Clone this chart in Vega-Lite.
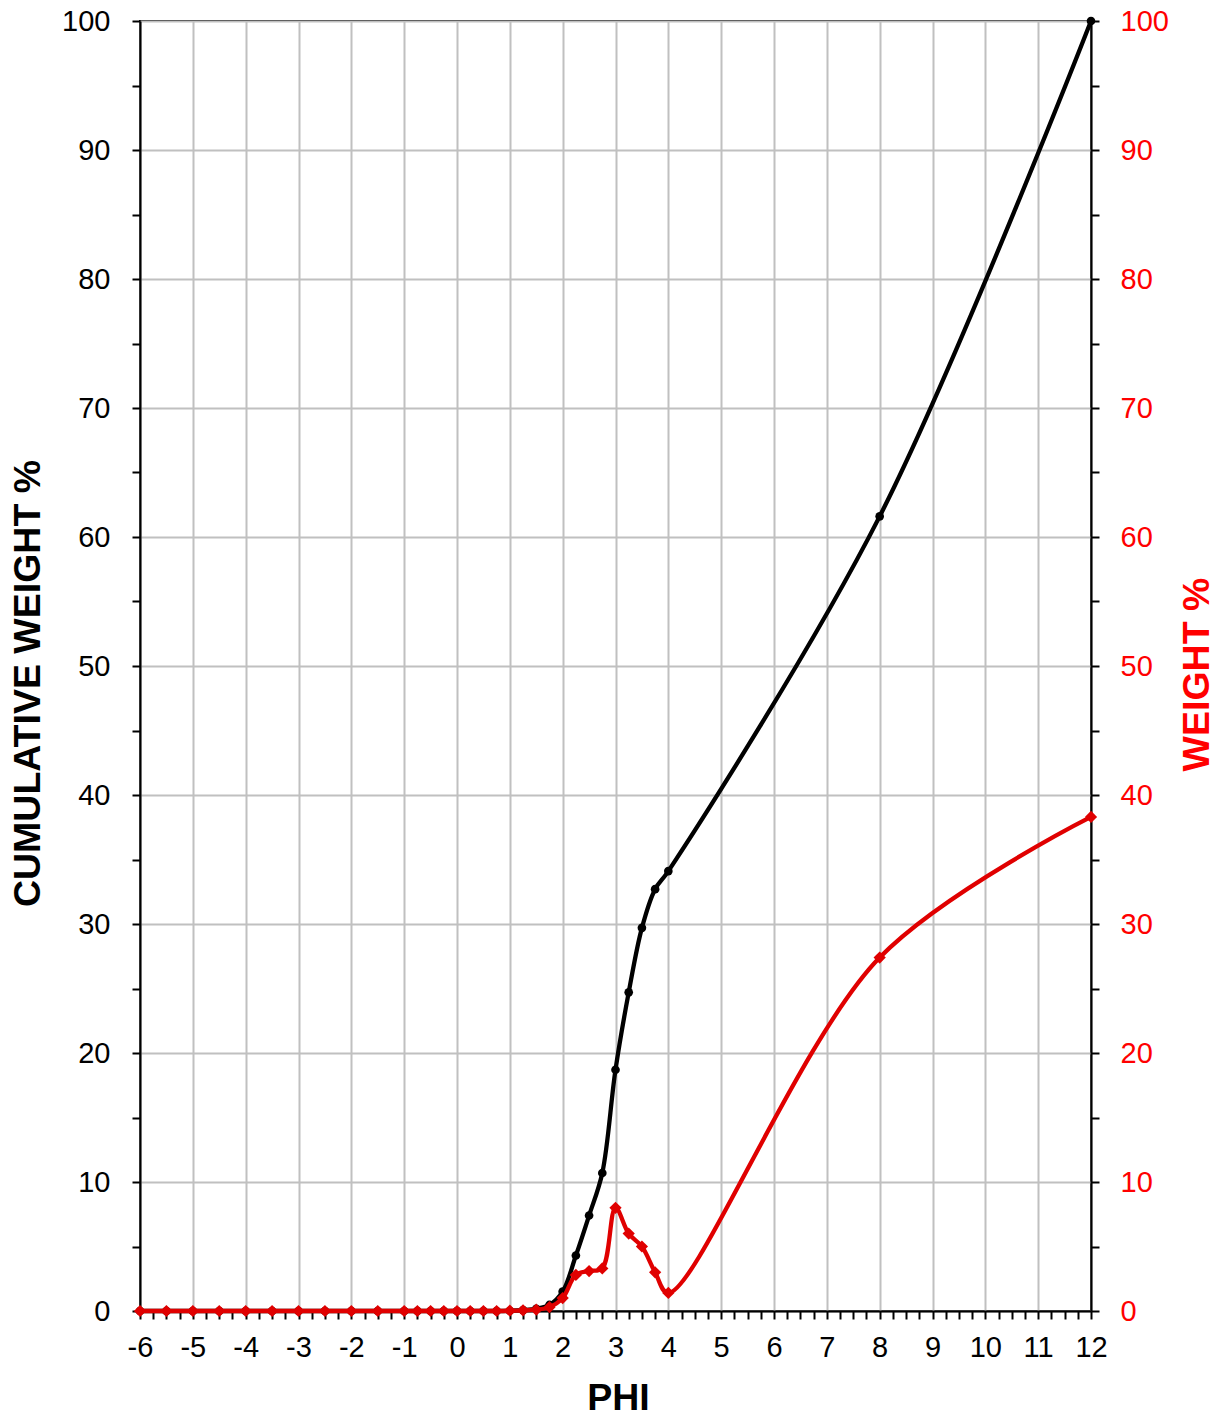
{
  "$schema": "https://vega.github.io/schema/vega-lite/v6.json",
  "width": 951,
  "height": 1290,
  "autosize": {"type": "none"},
  "padding": {"left": 140, "top": 21, "right": 131, "bottom": 105},
  "background": "white",
  "config": {
    "view": {"stroke": "black", "strokeWidth": 2},
    "axis": {
      "labelFont": "Liberation Sans",
      "labelFontSize": 29,
      "titleFont": "Liberation Sans",
      "titleFontSize": 37.5,
      "titleFontWeight": "bold",
      "domainColor": "black",
      "domainWidth": 2,
      "tickColor": "black",
      "tickWidth": 2,
      "tickSize": 8,
      "gridColor": "#C0C0C0",
      "gridWidth": 2,
      "labelOverlap": false,
      "labelFlush": false,
      "labelBound": false
    }
  },
  "data": {
    "values": [
      {"phi": -6, "cum": 0, "wt": 0},
      {"phi": -5.5, "cum": 0, "wt": 0},
      {"phi": -5, "cum": 0, "wt": 0},
      {"phi": -4.5, "cum": 0, "wt": 0},
      {"phi": -4, "cum": 0, "wt": 0},
      {"phi": -3.5, "cum": 0, "wt": 0},
      {"phi": -3, "cum": 0, "wt": 0},
      {"phi": -2.5, "cum": 0, "wt": 0},
      {"phi": -2, "cum": 0, "wt": 0},
      {"phi": -1.5, "cum": 0, "wt": 0},
      {"phi": -1, "cum": 0, "wt": 0},
      {"phi": -0.75, "cum": 0, "wt": 0},
      {"phi": -0.5, "cum": 0, "wt": 0},
      {"phi": -0.25, "cum": 0, "wt": 0},
      {"phi": 0, "cum": 0, "wt": 0},
      {"phi": 0.25, "cum": 0, "wt": 0},
      {"phi": 0.5, "cum": 0, "wt": 0},
      {"phi": 0.75, "cum": 0, "wt": 0},
      {"phi": 1, "cum": 0.02, "wt": 0.02},
      {"phi": 1.25, "cum": 0.07, "wt": 0.05},
      {"phi": 1.5, "cum": 0.17, "wt": 0.1},
      {"phi": 1.75, "cum": 0.47, "wt": 0.3},
      {"phi": 2, "cum": 1.5, "wt": 1.0},
      {"phi": 2.25, "cum": 4.3, "wt": 2.8},
      {"phi": 2.5, "cum": 7.4, "wt": 3.1},
      {"phi": 2.75, "cum": 10.7, "wt": 3.3},
      {"phi": 3, "cum": 18.7, "wt": 8.0},
      {"phi": 3.25, "cum": 24.7, "wt": 6.0},
      {"phi": 3.5, "cum": 29.7, "wt": 5.0},
      {"phi": 3.75, "cum": 32.7, "wt": 3.0},
      {"phi": 4, "cum": 34.1, "wt": 1.4},
      {"phi": 8, "cum": 61.6, "wt": 27.4},
      {"phi": 12, "cum": 100, "wt": 38.3}
    ]
  },
  "encoding": {
    "x": {
      "field": "phi",
      "type": "quantitative",
      "scale": {"domain": [-6, 12], "nice": false, "zero": false},
      "axis": {
        "title": "PHI",
        "titleX": 478,
        "titleY": 98,
        "titleBaseline": "alphabetic",
        "values": [-6,-5.75,-5.5,-5.25,-5,-4.75,-4.5,-4.25,-4,-3.75,-3.5,-3.25,-3,-2.75,-2.5,-2.25,-2,-1.75,-1.5,-1.25,-1,-0.75,-0.5,-0.25,0,0.25,0.5,0.75,1,1.25,1.5,1.75,2,2.25,2.5,2.75,3,3.25,3.5,3.75,4,4.25,4.5,4.75,5,5.25,5.5,5.75,6,6.25,6.5,6.75,7,7.25,7.5,7.75,8,8.25,8.5,8.75,9,9.25,9.5,9.75,10,10.25,10.5,10.75,11,11.25,11.5,11.75,12],
        "labelExpr": "datum.value % 1 === 0 ? toString(datum.value) : ''",
        "labelPadding": 14,
        "grid": true,
        "gridOpacity": {"condition": {"test": "datum.value % 1 === 0", "value": 1}, "value": 0}
      }
    }
  },
  "layer": [
    {
      "mark": {
        "type": "line",
        "color": "black",
        "strokeWidth": 4.3,
        "interpolate": "catmull-rom",
        "point": {"filled": true, "color": "black", "shape": "circle", "size": 75}
      },
      "encoding": {
        "y": {
          "field": "cum",
          "type": "quantitative",
          "scale": {"domain": [0, 100], "nice": false},
          "axis": {
            "title": "CUMULATIVE WEIGHT %",
            "titleAngle": -90,
            "titleBaseline": "alphabetic",
            "titleX": -101,
            "titleY": 662,
            "values": [0,5,10,15,20,25,30,35,40,45,50,55,60,65,70,75,80,85,90,95,100],
            "labelExpr": "datum.value % 10 === 0 ? toString(datum.value) : ''",
            "labelPadding": 22,
            "grid": true,
            "gridOpacity": {"condition": {"test": "datum.value % 10 === 0", "value": 1}, "value": 0}
          }
        }
      }
    },
    {
      "mark": {
        "type": "line",
        "color": "#E00000",
        "strokeWidth": 4.3,
        "interpolate": "catmull-rom",
        "point": {"filled": true, "color": "#E00000", "shape": "diamond", "size": 150}
      },
      "encoding": {
        "y": {
          "field": "wt",
          "type": "quantitative",
          "scale": {"domain": [0, 100], "nice": false},
          "axis": {
            "orient": "right",
            "title": "WEIGHT %",
            "titleColor": "#FF0000",
            "titleAngle": -90,
            "titleBaseline": "alphabetic",
            "titleX": 117,
            "titleY": 653,
            "labelColor": "#FF0000",
            "values": [0,5,10,15,20,25,30,35,40,45,50,55,60,65,70,75,80,85,90,95,100],
            "labelExpr": "datum.value % 10 === 0 ? toString(datum.value) : ''",
            "labelPadding": 21,
            "grid": false
          }
        }
      }
    }
  ],
  "resolve": {"scale": {"y": "independent"}}
}
